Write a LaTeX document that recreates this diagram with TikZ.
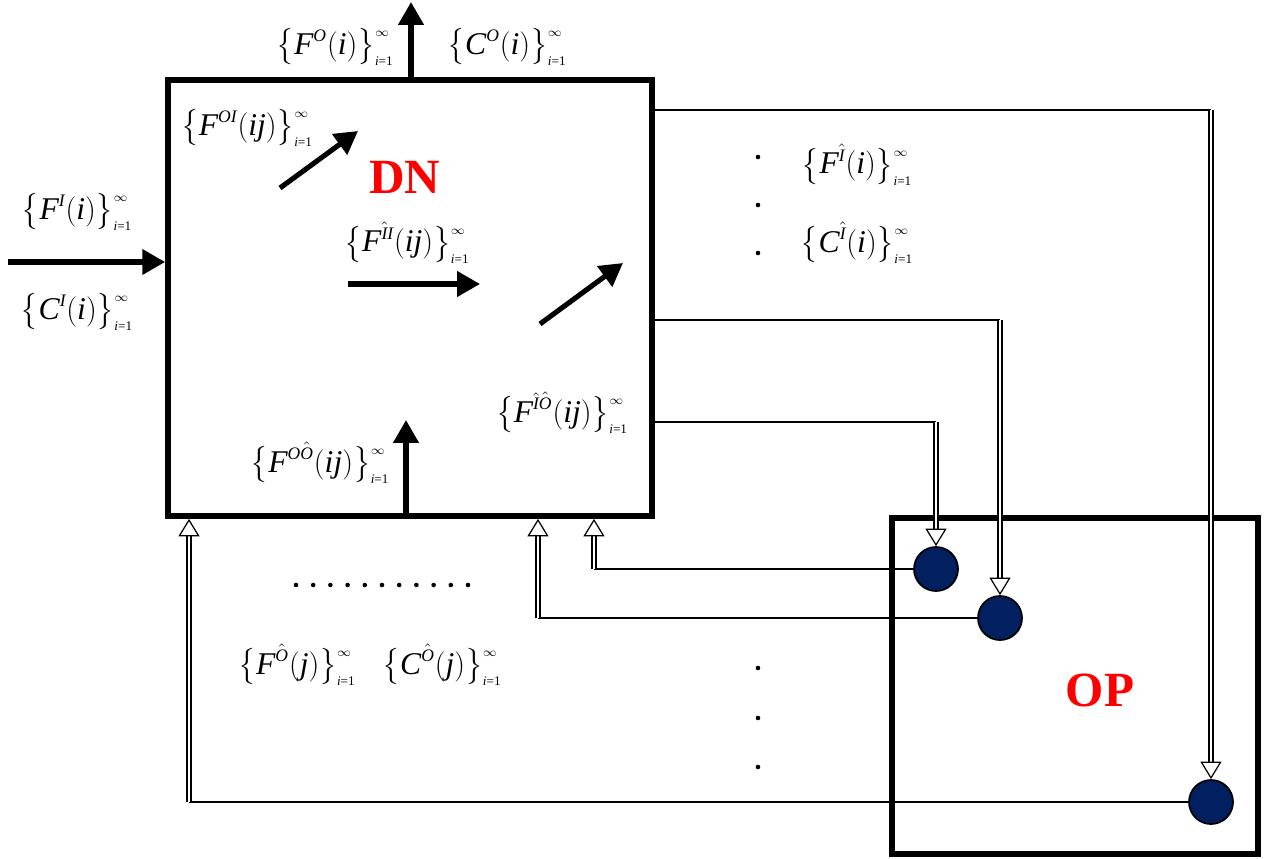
\documentclass[tikz,border=0pt]{standalone}
\usepackage{amsmath}
\usepackage{fontspec}
\setmainfont{Liberation Serif}
\usetikzlibrary{arrows.meta}

\definecolor{navy}{RGB}{2,32,96}
\newcommand{\tv}[1]{\text{\itshape #1}}
\newcommand{\sv}[1]{\text{\fontsize{10}{11}\selectfont\itshape #1}}
\newcommand{\lv}[1]{\text{\fontsize{7.5}{9}\selectfont #1}}
\newcommand{\seqlab}[3]{$\bigl\{\tv{#1}^{#2}(\tv{#3})\bigr\}_{\lv{\itshape i\/\upshape =1}}^{\lv{$\infty$}}$}

\begin{document}
\begin{tikzpicture}[
        x=0.02cm, y=-0.02cm,
        box/.style={draw, line width=3.3pt, inner sep=0pt},
        flow/.style={-{Triangle[length=13pt, width=14pt]}, line width=2.9pt},
        link/.style={line width=0.8pt},
        feed/.style={double, line width=0.7pt, double distance=1.6pt, -{Triangle[open, length=10pt, width=12pt]}},
        port/.style={circle, draw, line width=1pt, fill=navy, minimum size=0.88cm, inner sep=0pt},
        lab/.style={font=\fontsize{18}{22}\selectfont, inner sep=1pt},
        tag/.style={text=red, font=\fontsize{28}{30}\selectfont\bfseries},
        dot/.style={fill=black}
    ]
        \useasboundingbox (0,0) rectangle (1269,859);

        % the two blocks
        \node[box, minimum width=9.68cm, minimum height=8.72cm] (dn) at (410,298) {};
        \node[box, minimum width=7.32cm, minimum height=6.72cm] (op) at (1075,686) {};
        \node[tag] (dnlab) at (405,177) {DN};
        \node[tag] (oplab) at (1100,690) {OP};

        % ports of OP
        \node[port] (p1) at (936,569) {};
        \node[port] (p2) at (1000,618) {};
        \node[port] (p3) at (1211,802) {};

        % outer flows
        \coordinate (outO) at (411,2);
        \coordinate (inI) at (8,262);
        \draw[flow] (dn.north -| outO) -- (outO);
        \draw[flow] (inI) -- (inI -| dn.west);
        \node[lab] (fo) at (335,47) {\seqlab{F}{\sv{O}}{i}};
        \node[lab] (co) at (507,47) {\seqlab{C}{\sv{O}}{i}};
        \node[lab] (fi) at (77,212) {\seqlab{F}{\sv{I}}{i}};
        \node[lab] (ci) at (77,312) {\seqlab{C}{\sv{I}}{i}};

        % inner flows
        \coordinate (a1) at (280,188);
        \coordinate (a2) at (358,131);
        \coordinate (b1) at (348,284);
        \coordinate (b2) at (480,284);
        \coordinate (c1) at (540,324);
        \coordinate (c2) at (623,263);
        \coordinate (d2) at (406,420);
        \draw[flow] (a1) -- (a2);
        \draw[flow] (b1) -- (b2);
        \draw[flow] (c1) -- (c2);
        \draw[flow] (d2 |- dn.south) -- (d2);
        \node[lab] (foi) at (247,128) {\seqlab{F}{\sv{OI}}{ij}};
        \node[lab] (fii) at (407,243) {\seqlab{F}{\hat{\sv{I}}\sv{I}}{ij}};
        \node[lab] (fio) at (562,413) {\seqlab{F}{\hat{\sv{I}}\hat{\sv{O}}}{ij}};
        \node[lab] (foo) at (320,463) {\seqlab{F}{\sv{O}\hat{\sv{O}}}{ij}};

        % DN -> OP
        \coordinate (k1) at (936,422);
        \coordinate (k2) at (1000,320);
        \coordinate (k3) at (1211,110);
        \draw[link] (k1 -| dn.east) -- (k1);
        \draw[link] (k2 -| dn.east) -- (k2);
        \draw[link] (k3 -| dn.east) -- (k3);
        \draw[feed] (k1) -- (p1);
        \draw[feed] (k2) -- (p2);
        \draw[feed] (k3) -- (p3);

        % OP -> DN
        \draw[link] (p1.west) -- (p1.west -| 594,0) coordinate (m1);
        \draw[link] (p2.west) -- (p2.west -| 538,0) coordinate (m2);
        \draw[link] (p3.west) -- (p3.west -| 189,0) coordinate (m3);
        \draw[feed] (m1) -- (m1 |- dn.south);
        \draw[feed] (m2) -- (m2 |- dn.south);
        \draw[feed] (m3) -- (m3 |- dn.south);

        % hidden signals
        \foreach \y in {157,205,253,668,718,767}
            \fill[dot] (758,\y) circle (1.3pt);
        \foreach \i in {0,...,10}
            \fill[dot] (296+17.2*\i,585) circle (1.3pt);
        \node[lab] (fh) at (857,165) {\seqlab{F}{\hat{\sv{I}}}{i}};
        \node[lab] (ch) at (857,243) {\seqlab{C}{\hat{\sv{I}}}{i}};
        \node[lab] (fj) at (297,665) {\seqlab{F}{\hat{\sv{O}}}{j}};
        \node[lab] (cj) at (442,665) {\seqlab{C}{\hat{\sv{O}}}{j}};

    \end{tikzpicture}
\end{document}
